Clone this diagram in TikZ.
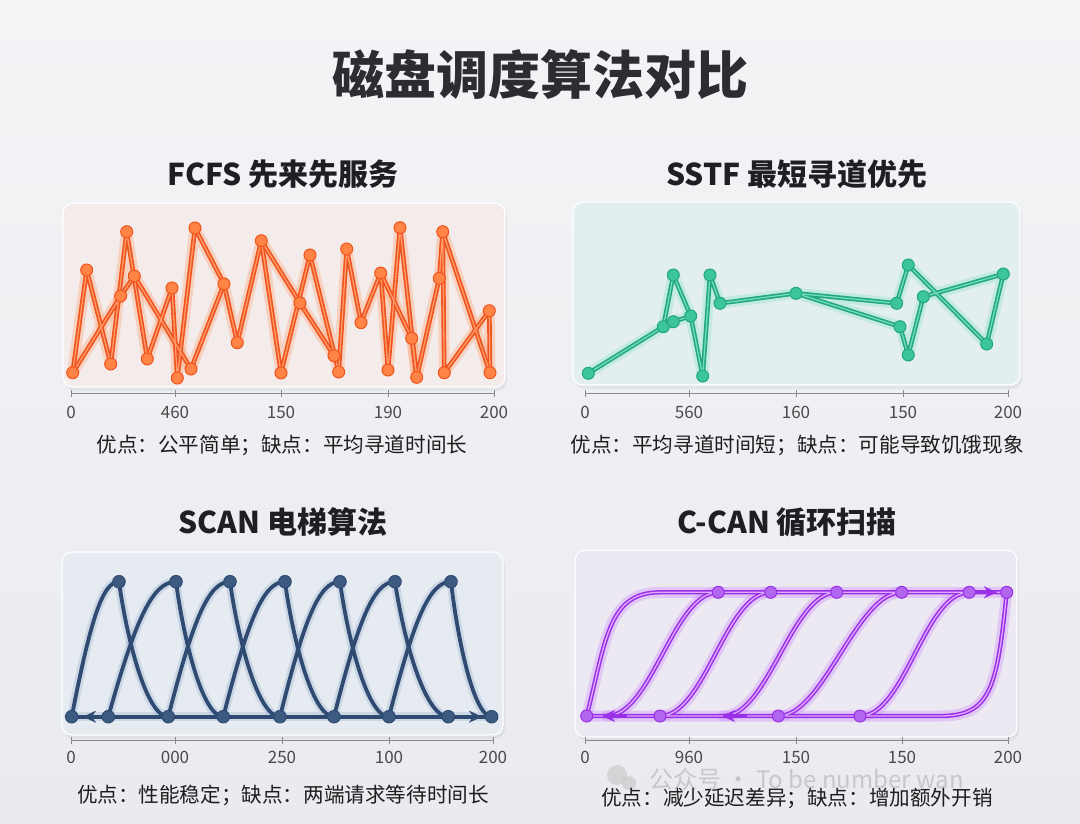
\documentclass[tikz,border=0pt]{standalone}
\usepackage{fontspec}
\setmainfont{Noto Sans CJK SC}
\usetikzlibrary{arrows.meta,calc}
\definecolor{bgA}{HTML}{F3F4F6}
\definecolor{bgB}{HTML}{E9EBEF}
\definecolor{titlec}{HTML}{2B2D33}
\definecolor{subc}{HTML}{1E1F22}
\definecolor{capc}{HTML}{1E1E1E}
\definecolor{tickc}{HTML}{4A4A4A}
\definecolor{axisc}{HTML}{8A8A8A}
\definecolor{panF}{HTML}{F4ECEA}
\definecolor{panS}{HTML}{E2EFEE}
\definecolor{panN}{HTML}{E6EBF1}
\definecolor{panC}{HTML}{ECE9F2}
\definecolor{fMain}{HTML}{F0541E}
\definecolor{fGlow}{HTML}{FF9A66}
\definecolor{fHi}{HTML}{FF9B6A}
\definecolor{fPt}{HTML}{FF8445}
\definecolor{sMain}{HTML}{23A77F}
\definecolor{sGlow}{HTML}{80E0C2}
\definecolor{sHi}{HTML}{72DDB8}
\definecolor{sPt}{HTML}{3CC49A}
\definecolor{nMain}{HTML}{2F4B72}
\definecolor{nGlow}{HTML}{9DB2D3}
\definecolor{nPt}{HTML}{3D5A80}
\definecolor{cMain}{HTML}{9A30E6}
\definecolor{cGlow}{HTML}{CC88FF}
\definecolor{cHi}{HTML}{DDAAFF}
\definecolor{cPt}{HTML}{B266F0}
\tikzset{
  titlefont/.style={font=\bfseries\fontsize{52}{60}\selectfont, text=titlec},
  subfont/.style={font=\bfseries\fontsize{30}{36}\selectfont, text=subc},
  capfont/.style={font=\fontsize{20.6}{24}\selectfont, text=capc},
  tickfont/.style={font=\fontsize{17}{20}\selectfont, text=tickc},
  panelshadow/.style={fill=black, opacity=0.05, rounded corners=10pt},
  panelbox/.style={draw=white, line width=1.2pt, rounded corners=10pt},
  axisline/.style={draw=axisc, line width=0.9pt},
  lr/.style={line join=round, line cap=round},
  fglow/.style={lr, draw=fGlow, line width=11pt, opacity=0.32},
  fmain/.style={lr, draw=fMain, line width=4.6pt},
  fhi/.style={lr, draw=fHi, line width=1.3pt},
  fpt/.style={circle, inner sep=0pt, minimum size=12pt, fill=fPt, draw=fMain, line width=1pt},
  sglow/.style={lr, draw=sGlow, line width=11pt, opacity=0.32},
  smain/.style={lr, draw=sMain, line width=4.5pt},
  shi/.style={lr, draw=sHi, line width=1.3pt},
  spt/.style={circle, inner sep=0pt, minimum size=12pt, fill=sPt, draw=sMain, line width=1pt},
  nglow/.style={lr, draw=nGlow, line width=9pt, opacity=0.35},
  nmain/.style={lr, draw=nMain, line width=3.8pt},
  npt/.style={circle, inner sep=0pt, minimum size=12.5pt, fill=nPt, draw=nMain, line width=1pt},
  cglow/.style={lr, draw=cGlow, line width=11pt, opacity=0.35},
  cmain/.style={lr, draw=cMain, line width=4.3pt},
  chi/.style={lr, draw=cHi, line width=1.3pt},
  cpt/.style={circle, inner sep=0pt, minimum size=12pt, fill=cPt, draw=cMain, line width=1pt},
}
\begin{document}
\begin{tikzpicture}[x=1pt,y=-1pt]
\shade[top color=bgA, bottom color=bgB] (0,0) rectangle (1080,823);
\useasboundingbox (0,0) rectangle (1080,823);

% titles
\node[titlefont] (title) at (540,75) {磁盘调度算法对比};
\node[subfont] (tF) at (283,174) {FCFS 先来先服务};
\node[subfont] (tS) at (797,174) {SSTF 最短寻道优先};
\node[subfont] (tN) at (283,522) {SCAN 电梯算法};
\node[subfont] (tC) at (787,522) {C-CAN 循环扫描};

% panels
\fill[panelshadow] (65,206) rectangle (507,391);
\filldraw[panelbox, fill=panF] (63,203) rectangle (505,387);
\fill[panelshadow] (575,205) rectangle (1022,389);
\filldraw[panelbox, fill=panS] (573,202) rectangle (1020,385);
\fill[panelshadow] (64,555) rectangle (505,739);
\filldraw[panelbox, fill=panN] (62,552) rectangle (503,735);
\fill[panelshadow] (577,553) rectangle (1019,741);
\filldraw[panelbox, fill=panC] (575,550) rectangle (1017,737);

% axes
\draw[axisline] (71,393) -- (494,393);
\foreach \x/\l in {71/0,175/460,281/150,388/190,494/200}{
  \draw[axisline] (\x,390) -- (\x,397);
  \node[tickfont] at (\x,412) {\l};
}
\draw[axisline] (585,393) -- (1008,393);
\foreach \x/\l in {585/0,689/560,796/160,903/150,1008/200}{
  \draw[axisline] (\x,390) -- (\x,397);
  \node[tickfont] at (\x,412) {\l};
}
\draw[axisline] (71,740) -- (493,740);
\foreach \x/\l in {71/0,175/000,282/250,389/100,493/200}{
  \draw[axisline] (\x,737) -- (\x,744);
  \node[tickfont] at (\x,757) {\l};
}
\draw[axisline] (585,740) -- (1008,740);
\foreach \x/\l in {585/0,689/960,796/150,902/150,1008/200}{
  \draw[axisline] (\x,737) -- (\x,744);
  \node[tickfont] at (\x,757) {\l};
}

% ---------- FCFS ----------
\foreach \n/\x/\y in {f1/72.7/372.7, f2/86.7/270, f3/110.7/364, f4/120.7/296, f5/126.7/231.7,
  f6/134.3/276, f7/147.3/359, f8/172/288, f9/177.3/378, f10/191/369, f11/195/228,
  f12/224/284, f13/237.3/342.7, f14/261.3/240.7, f15/281/373, f16/300/303, f17/310/255,
  f18/334/355.7, f19/338.7/372, f20/346.7/249, f21/361/322.7, f22/380.7/273, f23/388/370,
  f24/400/227.7, f25/411.7/338.3, f26/416.7/377.3, f27/439.3/278.3, f28/442.7/231.7,
  f29/444.3/372.7, f30/489.3/310.7, f31/490/372.7}
  {\coordinate (\n) at (\x,\y);}
\foreach \s in {fglow,fmain,fhi}{
  \draw[\s] (f1) -- (f2) -- (f3) -- (f5) -- (f7) -- (f8) -- (f9) -- (f11) -- (f12) -- (f13)
    -- (f14) -- (f15) -- (f17) -- (f19) -- (f20) -- (f21) -- (f22) -- (f23) -- (f24) -- (f26)
    -- (f27) -- (f28) -- (f29) -- (f30) -- (f31);
  \draw[\s] (f1) -- (f4) -- (f6) -- (f10) -- (f12);
  \draw[\s] (f14) -- (f16) -- (f18);
  \draw[\s] (f22) -- (f25) -- (f26);
  \draw[\s] (f28) -- (f31);
}
\foreach \i in {1,...,31}{\node[fpt] (fp\i) at (f\i) {};}

% ---------- SSTF ----------
\foreach \n/\x/\y in {q1/588.3/373.3, q2/663.3/326.7, q3/673.3/321.7, q4/673.3/275,
  q5/690.7/316, q6/702.7/376, q7/710/275, q8/720/303.3, q9/796/293.3, q10/896.7/303.3,
  q11/900/326.7, q12/908.3/265, q13/908.3/355, q14/923.3/296.7, q15/986.7/344, q16/1003.3/274}
  {\coordinate (\n) at (\x,\y);}
\foreach \s in {sglow,smain,shi}{
  \draw[\s] (q1) -- (q2) -- (q4) -- (q5) -- (q6) -- (q7) -- (q8) -- (q9) -- (q10) -- (q12)
    -- (q15) -- (q16) -- (q14) -- (q13) -- (q11) -- (q9);
  \draw[\s] (q2) -- (q3) -- (q5);
}
\foreach \i in {1,...,16}{\node[spt] (qp\i) at (q\i) {};}

% ---------- SCAN ----------
\foreach \n/\x in {sb0/71.7, sb1/108.3, sb2/168.3, sb3/223.3, sb4/280, sb5/334, sb6/389, sb7/448.3, sb8/491.7}
  {\coordinate (\n) at (\x,716.7);}
\foreach \n/\x in {sp1/119, sp2/176, sp3/230, sp4/285, sp5/340, sp6/395, sp7/451}
  {\coordinate (\n) at (\x,581.7);}
\coordinate (saL) at (83,716.7);
\coordinate (saL0) at (105,716.7);
\coordinate (saR) at (482,716.7);
\coordinate (saR0) at (460,716.7);
\foreach \s in {nglow,nmain}{
  \foreach \L/\P/\R in {71.7/119/168.3, 108.3/176/223.3, 168.3/230/280, 223.3/285/334,
      280/340/389, 334/395/448.3, 389/451/491.7}{
    \pgfmathsetmacro\ca{\L+0.4*(\P-\L)}
    \pgfmathsetmacro\cb{\P-0.35*(\P-\L)}
    \pgfmathsetmacro\cc{\P+0.15*(\R-\P)}
    \pgfmathsetmacro\cd{\R-0.45*(\R-\P)}
    \draw[\s] (\L,716.7) .. controls (\ca,620) and (\cb,581.7) .. (\P,581.7)
      .. controls (\cc,636) and (\cd,716.7) .. (\R,716.7);
  }
  \draw[\s] (sb0) -- (sb8);
}
\draw[nmain, -{Stealth[length=13pt,width=12pt]}] (saL0) -- (saL);
\draw[nmain, -{Stealth[length=13pt,width=12pt]}] (saR0) -- (saR);
\foreach \i in {0,...,8}{\node[npt] (sbp\i) at (sb\i) {};}
\foreach \i in {1,...,7}{\node[npt] (spp\i) at (sp\i) {};}

% ---------- C-SCAN ----------
\foreach \n/\x in {ct1/718.3, ct2/770.7, ct3/836.7, ct4/901.7, ct5/969.3, ct6/1006.7}
  {\coordinate (\n) at (\x,592.3);}
\foreach \n/\x in {cb0/586.7, cb1/660, cb2/778.3, cb3/860}
  {\coordinate (\n) at (\x,716);}
\coordinate (ctk) at (660,592.3);
\coordinate (cbk) at (940,716);
\coordinate (caT0) at (975,592.3);
\coordinate (caT) at (997,592.3);
\coordinate (caA0) at (625,716);
\coordinate (caA) at (602,716);
\coordinate (caB0) at (745,716);
\coordinate (caB) at (722,716);
\foreach \s in {cglow,cmain,chi}{
  \draw[\s] (cb0) .. controls (606,640) and (608,592.3) .. (ctk) -- (ct6);
  \draw[\s] (ct6) .. controls (997,690) and (990,716) .. (cbk) -- (cb0);
  \foreach \T/\B in {718.3/606.7, 770.7/660, 836.7/723.3, 901.7/778.3, 969.3/860}{
    \draw[\s] (\T,592.3) .. controls (\T-45,592.3) and (\B+45,716) .. (\B,716);
  }
}
\draw[cmain, -{Stealth[length=13pt,width=12pt]}] (caT0) -- (caT);
\draw[cmain, -{Stealth[length=13pt,width=12pt]}] (caA0) -- (caA);
\draw[cmain, -{Stealth[length=13pt,width=12pt]}] (caB0) -- (caB);
\foreach \i in {1,...,6}{\node[cpt] (ctp\i) at (ct\i) {};}
\foreach \i in {0,...,3}{\node[cpt] (cbp\i) at (cb\i) {};}

% watermark
\fill[gray!45, opacity=0.6] (617,775) circle (10);
\fill[gray!45, opacity=0.6] (629,783) circle (7);
\node[anchor=west, font=\fontsize{24}{28}\selectfont, text=gray!55, opacity=0.7, inner ysep=0pt] (wm) at (646,779) {公众号 · To be number wan};

% captions
\node[capfont] (cF) at (282,445) {优点：公平简单；缺点：平均寻道时间长};
\node[capfont] (cS) at (797,445) {优点：平均寻道时间短；缺点：可能导致饥饿现象};
\node[capfont] (cN) at (283,795) {优点：性能稳定；缺点：两端请求等待时间长};
\node[capfont] (cC) at (797,798) {优点：减少延迟差异；缺点：增加额外开销};
\end{tikzpicture}
\end{document}
